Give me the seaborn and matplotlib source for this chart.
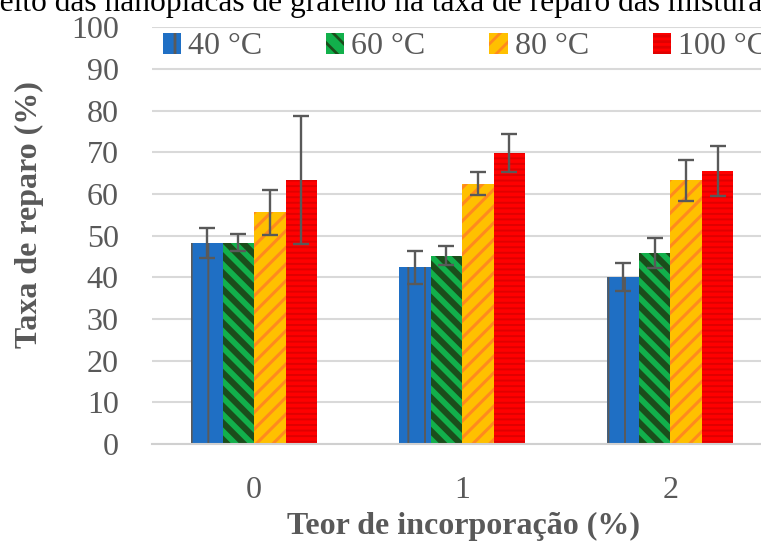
import numpy as np
import pandas as pd
import matplotlib
matplotlib.use("Agg")
import matplotlib.pyplot as plt
import seaborn as sns
from matplotlib.patches import Patch

# Teor de nanoplacas de grafeno (%) e temperaturas de reparo
teor = ["0", "1", "2"]
temperaturas = ["40 °C", "60 °C", "80 °C", "100 °C"]

# Taxa de reparo média (%) para cada temperatura
taxa_40 = [48.3, 42.4, 40.0]
taxa_60 = [48.3, 45.2, 45.9]
taxa_80 = [55.6, 62.5, 63.3]
taxa_100 = [63.3, 69.8, 65.4]

# Desvio padrão (%) para cada temperatura
desvio_40 = [3.6, 4.0, 3.4]
desvio_60 = [2.1, 2.3, 3.6]
desvio_80 = [5.4, 2.7, 4.9]
desvio_100 = [15.3, 4.6, 6.0]

taxas = [taxa_40, taxa_60, taxa_80, taxa_100]
desvios = [desvio_40, desvio_60, desvio_80, desvio_100]

cores = ["#1F6FC4", "#12B04B", "#FFC000", "#FF0000"]
cores_hachura = ["#5A5A5A", "#1B4D1B", "#FF8A1E", "#E00000"]
hachuras = ["|", "\\\\", "//", "---"]
larguras_hachura = [1.4, 4.4, 2.2, 1.4]

cinza = "#595959"
fonte = "Liberation Serif"

linhas = []
for temp, valores in zip(temperaturas, taxas):
    for t, v in zip(teor, valores):
        linhas.append({"Teor": t, "Temperatura": temp, "Taxa": v})
df = pd.DataFrame(linhas)

sns.set_style("white")
plt.rcParams["font.family"] = [fonte, "DejaVu Sans"]
plt.rcParams["hatch.linewidth"] = 2.0

fig = plt.figure(figsize=(7.61, 5.49), dpi=100)
ax = fig.add_axes([152 / 761, 105 / 549, 622.5 / 761, 416.7 / 549])

sns.barplot(
    data=df, x="Teor", y="Taxa", hue="Temperatura",
    order=teor, hue_order=temperaturas, palette=cores,
    width=0.605, errorbar=None, saturation=1, legend=False, ax=ax,
)

conjuntos = list(ax.containers)
for i, cont in enumerate(conjuntos):
    for barra in cont.patches:
        barra.set_hatch(hachuras[i])
        barra.set_edgecolor(cores_hachura[i])
        barra.set_linewidth(0)
        if hasattr(barra, "set_hatch_linewidth"):
            barra.set_hatch_linewidth(larguras_hachura[i])
    xs = [b.get_x() + b.get_width() / 2 for b in cont.patches]
    hs = [b.get_height() for b in cont.patches]
    ax.errorbar(xs, hs, yerr=desvios[i], fmt="none", ecolor=cinza,
                elinewidth=1.7, capsize=6, capthick=1.7, zorder=5)

ax.set_ylim(0, 100)
ax.set_xlim(-0.49, 2.5)
ax.set_yticks(np.arange(0, 101, 10))
ax.yaxis.grid(True, color="#D9D9D9", linewidth=1.5)
ax.set_axisbelow(True)
for lado in ["left", "right", "top"]:
    ax.spines[lado].set_visible(False)
ax.spines["bottom"].set_color("#D0D0D0")
ax.spines["bottom"].set_linewidth(1.5)
ax.tick_params(axis="both", length=0, labelsize=23, labelcolor=cinza)
ax.tick_params(axis="y", pad=24)
ax.tick_params(axis="x", pad=23)

ax.set_xlabel("Teor de incorporação (%)", fontsize=23, fontweight="bold",
              color=cinza, va="top")
ax.xaxis.set_label_coords(0.5, -0.163)
ax.set_ylabel("Taxa de reparo (%)", fontsize=23, fontweight="bold",
              color=cinza, va="center")
ax.yaxis.set_label_coords(-0.197, 0.55)

alcas = [Patch(facecolor=c, edgecolor=hc, hatch=h, linewidth=0)
         for c, hc, h in zip(cores, cores_hachura, hachuras)]
leg = ax.legend(alcas, temperaturas, loc="center left",
                bbox_to_anchor=(0.017, 0.953), ncol=4, frameon=False,
                fontsize=23, handlelength=0.57, handleheight=0.65,
                handletextpad=0.22, columnspacing=2.0, borderpad=0,
                borderaxespad=0)
for txt in leg.get_texts():
    txt.set_color(cinza)

# Título da figura (recortado nas margens)
fig.text(-0.039, 1 - 11.5 / 549, "Efeito das nanoplacas de grafeno na taxa de reparo das misturas",
         fontsize=22.7, color="black", ha="left", va="baseline", family=fonte)

fig.savefig("out.png", dpi=100)
